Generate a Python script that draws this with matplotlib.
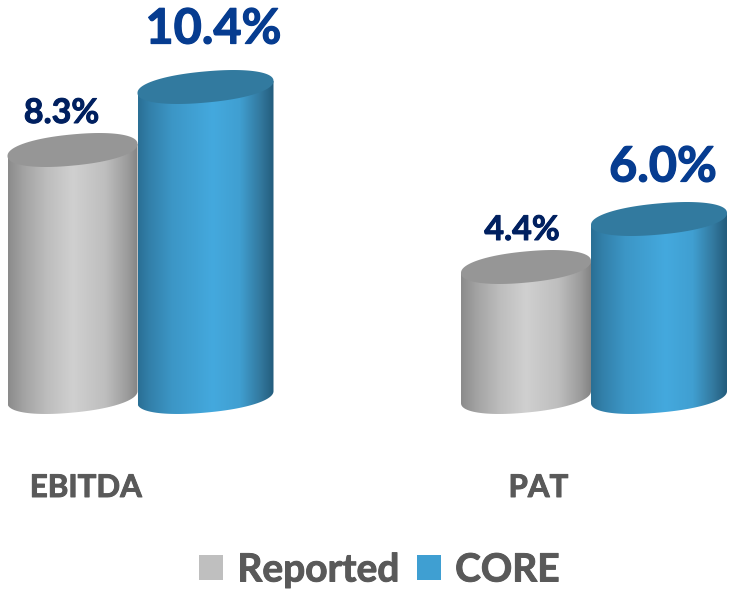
import numpy as np
import matplotlib
matplotlib.use("Agg")
import matplotlib.pyplot as plt
import matplotlib.patheffects as pe
from matplotlib.colors import LinearSegmentedColormap
from matplotlib.patches import Polygon, Patch

categories = ["EBITDA", "PAT"]
series_names = ["Reported", "CORE"]
reported = [8.3, 4.4]
core = [10.4, 6.0]

W, H = 730, 592
BASE_PX = 399        # pixel row of the value 0
PX_PER_UNIT = 30.0
BOTTOM_PX = 440
U = 1 / PX_PER_UNIT
PT = 0.72            # points per pixel at dpi 100

plt.rcParams["font.family"] = ["Lato", "DejaVu Sans"]
fig = plt.figure(figsize=(W / 100, H / 100), dpi=100)
ax = fig.add_axes([0, 1 - BOTTOM_PX / H, 1, BOTTOM_PX / H])

grey_cmap = LinearSegmentedColormap.from_list("g", [
    (0.0, "#8b8b8b"), (0.12, "#a3a3a3"), (0.3, "#bdbdbd"), (0.5, "#d0d0d0"),
    (0.75, "#bebebe"), (0.92, "#9c9c9c"), (1.0, "#848484")])
blue_cmap = LinearSegmentedColormap.from_list("b", [
    (0.0, "#2a6f94"), (0.08, "#327fa9"), (0.25, "#3c96c6"), (0.55, "#44a9de"),
    (0.75, "#409fd1"), (0.9, "#33799f"), (1.0, "#235c7c")])

B_PX, K_PX = 15.6, -6.0   # ellipse minor radius and tilt
SQ = 0.92                 # superellipse exponent: a little fuller than an ellipse
t = np.linspace(0, 2 * np.pi, 361)


def spow(a):
    return np.sign(a) * np.abs(a) ** SQ


def cylinder(cx, half_w, value, cmap, cap, z):
    top = value
    s = np.linspace(np.pi, 0, 181)   # lower half of base, left to right
    bx = cx + half_w * spow(np.cos(s))
    by = (2.0 - (B_PX * spow(np.sin(s)) + K_PX * spow(np.cos(s)))) * U
    xs = np.r_[cx - half_w, bx, cx + half_w]
    ys = np.r_[top + K_PX * U, by, top - K_PX * U]
    body = Polygon(np.c_[xs, ys], closed=True, transform=ax.transData,
                   fc="none", ec="none", zorder=z)
    ax.add_patch(body)
    grad = np.linspace(0, 1, 256)[None, :]
    im = ax.imshow(grad, cmap=cmap, aspect="auto", zorder=z, vmin=0, vmax=1,
                   extent=[cx - half_w, cx + half_w, -2, top + 1])
    im.set_clip_path(body)
    ex = cx + half_w * spow(np.cos(t))
    ey = top - (B_PX * spow(np.sin(t)) + K_PX * spow(np.cos(t))) * U
    ax.add_patch(Polygon(np.c_[ex, ey], closed=True, fc=cap, ec="none", zorder=z + 0.1))


group_centers = [139.0, 592.5]
reported_dx, reported_hw = -66.5, 65.0
core_dx, core_hw = 66.5, 68.0

for gc, r, c in zip(group_centers, reported, core):
    cylinder(gc + reported_dx, reported_hw, r, grey_cmap, "#969696", 2)
    cylinder(gc + core_dx, core_hw, c, blue_cmap, "#327a9f", 3)


def heavy(color, w=0.7):
    return [pe.withStroke(linewidth=w, foreground=color)]


small_kw = dict(color="#002060", fontsize=24.5, fontweight="bold", ha="center", va="center",
                path_effects=heavy("#002060"))
big_kw = dict(color="#063c90", fontsize=35, fontweight="bold", ha="center", va="center",
              path_effects=heavy("#063c90", 0.9))
rep_off = [(-11, 37), (-4, 37)]
core_off = [(8, 58), (4, 52)]
for i, gc in enumerate(group_centers):
    ax.annotate(f"{reported[i]:.1f}%", (gc + reported_dx, reported[i]),
                xytext=(rep_off[i][0] * PT, rep_off[i][1] * PT),
                textcoords="offset points", zorder=5, **small_kw)
    ax.annotate(f"{core[i]:.1f}%", (gc + core_dx, core[i]),
                xytext=(core_off[i][0] * PT, core_off[i][1] * PT),
                textcoords="offset points", zorder=5, **big_kw)

ax.set_xlim(0, W)
ax.set_ylim((BASE_PX - BOTTOM_PX) * U, BASE_PX * U)
ax.set_yticks([])
ax.set_xticks([86, 538.5], categories)
ax.tick_params(axis="x", length=0, pad=34 * PT, labelsize=22.5, labelcolor="#595959")
for lb in ax.get_xticklabels():
    lb.set_fontweight("bold")
    lb.set_path_effects(heavy("#595959"))
for sp in ax.spines.values():
    sp.set_visible(False)
ax.patch.set_visible(False)

handles = [Patch(fc="#bfbfbf", ec="none"), Patch(fc="#3f9fd2", ec="none")]
leg = fig.legend(handles, series_names, ncols=2, loc="center",
                 bbox_to_anchor=(379.5 / W, 1 - 570 / H), frameon=False,
                 prop={"family": "Lato", "weight": "bold", "size": 28},
                 labelcolor="#595959", handlelength=0.62, handleheight=0.62,
                 handletextpad=0.36, columnspacing=0.45, borderpad=0)
for txt in leg.get_texts():
    txt.set_path_effects(heavy("#595959"))

fig.savefig("out.png", dpi=100, facecolor="white")
